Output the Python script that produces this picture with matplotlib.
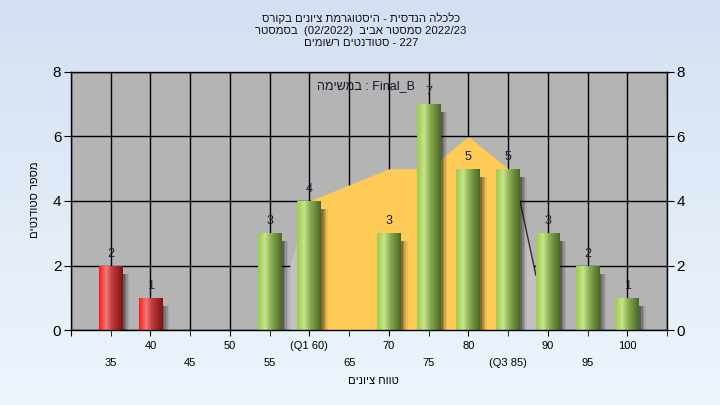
import re
import numpy as np
import matplotlib
matplotlib.use("Agg")
import matplotlib.pyplot as plt
from matplotlib.colors import to_rgb

plt.rcParams['font.family'] = ['Liberation Sans', 'DejaVu Sans']

# ---------------- data ----------------
scores = [35, 40, 55, 60, 70, 75, 80, 85, 90, 95, 100]
counts = [2, 1, 3, 4, 3, 7, 5, 5, 3, 2, 1]
failing = [True, True, False, False, False, False, False, False, False, False, False]

area_x = [60, 65, 70, 75, 80, 85]
area_y = [4, 4.5, 5, 5, 6, 5]

gray_x = [57.6, 57.6, 60, 86.5, 88.5, 88.5]
gray_y = [0, 2, 4, 4, 1.7, 0]

row1_ticks = [30, 40, 50, 60, 70, 80, 90, 100]
row1_labels = ['', '40', '50', '(Q1 60)', '70', '80', '90', '100']
row2_ticks = [35, 45, 55, 65, 75, 85, 95, 105]
row2_labels = ['35', '45', '55', '65', '75', '(Q3 85)', '95', '']
y_ticks = [0, 2, 4, 6, 8]

title_lines = ["היסטוגרמת ציונים בקורס - כלכלה הנדסית",
               "בסמסטר  (02/2022)  סמסטר אביב 2022/23",
               "סטודנטים רשומים - 227"]
legend_text = "במשימה : Final_B"
x_label = "טווח ציונים"
y_label = "מספר סטודנטים"


def visual(s):
    """logical -> visual order for Hebrew runs (LTR base)."""
    return re.sub(r'[\u0590-\u05FF]+(?:\s+[\u0590-\u05FF]+)*',
                  lambda m: m.group(0)[::-1], s)


W, H = 720, 405
fig = plt.figure(figsize=(W / 100, H / 100), dpi=100)

# background gradient
bg = fig.add_axes([0, 0, 1, 1], zorder=-10)
top_c = np.array(to_rgb('#d4e0f2'))
bot_c = np.array(to_rgb('#eef5fd'))
t = np.linspace(0, 1, 256)[:, None]
grad = top_c * (1 - t) + bot_c * t
bg.imshow(grad[:, None, :].repeat(2, axis=1), aspect='auto', extent=(0, 1, 0, 1))
bg.set_axis_off()

L, R, T, B = 71, 667, 72, 330
ax = fig.add_axes([L / W, 1 - B / H, (R - L) / W, (B - T) / H])
ax.set_facecolor('#b4b4b4')

ax.set_xlim(30, 105)
ax.set_ylim(0, 8)

# grid
for gx in range(30, 106, 5):
    ax.axvline(gx, color='black', lw=1, zorder=1)
for gy in y_ticks:
    ax.axhline(gy, color='black', lw=1, zorder=1)

# light gray background area + edge line
ax.fill(gray_x, gray_y, color='#c1c1c1', zorder=1.5, lw=0)
ax.plot(gray_x[3:5], gray_y[3:5], color='#303030', lw=1, zorder=1.6)

# orange area
ax.fill_between(area_x, area_y, 0, color='#fecb57', lw=0, zorder=2)

# bars
bw = 3.0
green_stops = [(0.0, '#9ccc48'), (0.3, '#c8e48e'), (0.55, '#8aae52'), (1.0, '#4a6824')]
red_stops = [(0.0, '#ff1a1a'), (0.3, '#f27a7a'), (0.55, '#c03a3a'), (1.0, '#7e1414')]


def make_grad(stops, n=64):
    pos = np.linspace(0, 1, n)
    sp = [s[0] for s in stops]
    cols = np.array([to_rgb(s[1]) for s in stops])
    out = np.stack([np.interp(pos, sp, cols[:, k]) for k in range(3)], axis=1)
    return out[None, :, :]


g_green = make_grad(green_stops)
g_red = make_grad(red_stops)

# soft shadows
for k, a in zip([0.25, 0.45, 0.65, 0.85], [0.22, 0.18, 0.12, 0.07]):
    ax.bar([s + k for s in scores], [c - 0.25 for c in counts], width=bw,
           color='black', alpha=a, zorder=2.5, lw=0)

bars = ax.bar(scores, counts, width=bw, color='none', lw=0, zorder=3)
for rect, s, c, f in zip(bars, scores, counts, failing):
    x0 = rect.get_x()
    im = ax.imshow(g_red if f else g_green, extent=(x0, x0 + rect.get_width(), 0, c),
                   aspect='auto', zorder=3, interpolation='bilinear')
    im.set_clip_path(rect)
    ax.annotate(str(c), (s, c), xytext=(0, 8.5), textcoords='offset points',
                ha='center', va='center', fontsize=9, color='#1c1c3c', zorder=5)

ax.set_xlim(30, 105)
ax.set_ylim(0, 8)
ax.set_aspect('auto')

# ticks
ax.set_xticks(row1_ticks)
ax.set_xticklabels(row1_labels, fontsize=8)
ax.set_xticks(row2_ticks, minor=True)
ax.set_xticklabels(row2_labels, minor=True, fontsize=8)
ax.tick_params(axis='x', which='major', length=4.5, pad=3.3, direction='out')
ax.tick_params(axis='x', which='minor', length=4.5, pad=15.3, direction='out')
ax.set_yticks(y_ticks)
ax.tick_params(axis='y', which='both', length=5, labelsize=11, left=True, right=True,
               labelleft=True, labelright=True, pad=2)
for sp in ax.spines.values():
    sp.set_color('black')
    sp.set_linewidth(1)
    sp.set_zorder(6)

# legend-like text
ax.text(0.495, 0.945, visual(legend_text), transform=ax.transAxes, ha='center',
        va='center', fontsize=9, color='#20102a', zorder=6)

# axis labels
fig.text(373 / W, 1 - 381 / H, visual(x_label), ha='center', va='center', fontsize=8)
fig.text(35 / W, 1 - 200 / H, visual(y_label), ha='center', va='center', fontsize=8,
         rotation=90)

# title
for i, line in enumerate(title_lines):
    fig.text(361 / W, 1 - (18 + 12.5 * i) / H, visual(line), ha='center', va='center',
             fontsize=8.2, color='#101020')

fig.savefig('out.png', dpi=100)
